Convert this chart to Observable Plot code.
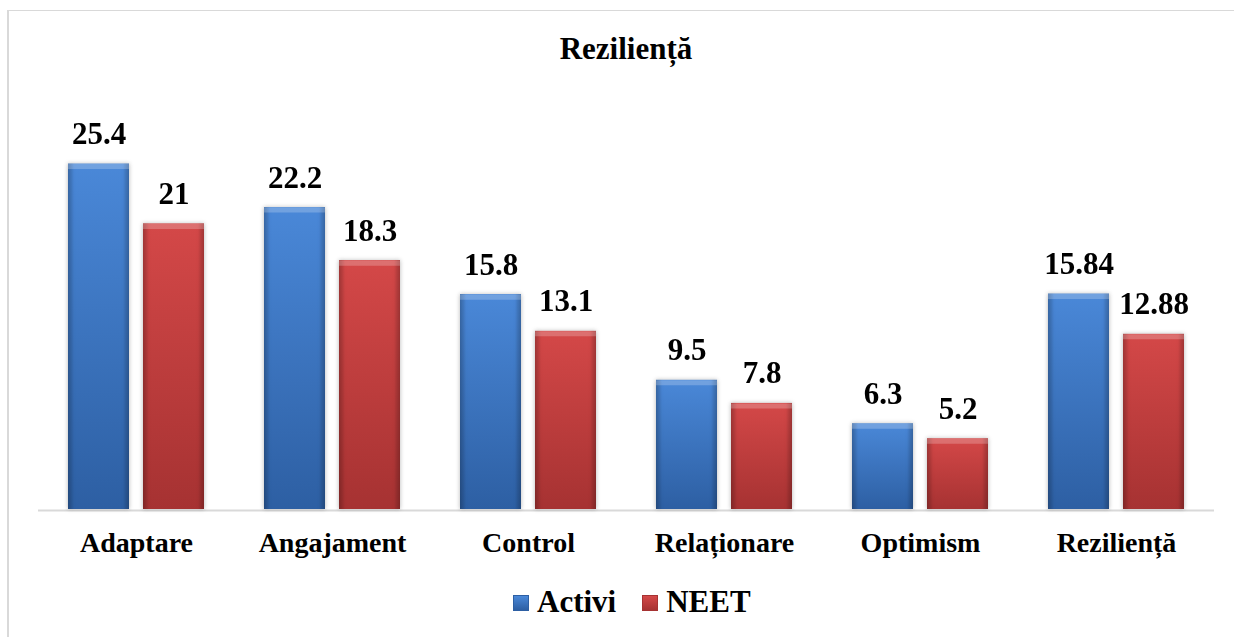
<!DOCTYPE html>
<html>
<head>
<meta charset="utf-8">
<script src="https://cdn.jsdelivr.net/npm/d3@7"></script>
<script src="https://cdn.jsdelivr.net/npm/@observablehq/plot@0.6"></script>
<style>
  html, body { margin: 0; padding: 0; background: #fff; }
  #wrap { position: relative; width: 1234px; height: 637px; overflow: hidden; background: #fff;
          font-family: "Liberation Serif", "Times New Roman", serif; font-weight: bold; color: #000; }
  .bt { position: absolute; left: 7px; top: 10px; width: 1227px; height: 1px; background: #d9d9d9; }
  .bl { position: absolute; left: 7px; top: 10px; width: 2px; height: 627px; background: #d9d9d9; }
  #title { position: absolute; left: 37px; width: 1178px; top: 33px; text-align: center;
           font-size: 31px; line-height: 31px; }
  #chart { position: absolute; left: 0; top: 100px; }
  #legend { position: absolute; left: 513px; top: 586px; display: flex; align-items: flex-start;
            font-size: 31px; line-height: 31px; }
  .sw { width: 16px; height: 16px; margin-top: 9px; box-sizing: border-box; }
  .lt { margin-left: 8px; margin-right: 26px; }
</style>
</head>
<body>
<div id="wrap">
  <div class="bt"></div>
  <div class="bl"></div>
  <div id="title"></div>
  <div id="chart"></div>
  <div id="legend"></div>
</div>
<script>
const title = "Reziliență";
const categories = ["Adaptare", "Angajament", "Control", "Relaționare", "Optimism", "Reziliență"];
const seriesNames = ["Activi", "NEET"];
const activi = [25.4, 22.2, 15.8, 9.5, 6.3, 15.84];
const neet = [21, 18.3, 13.1, 7.8, 5.2, 12.88];
const gradTop = {Activi: "#4a88d8", NEET: "#d44848"};
const gradBottom = {Activi: "#2d5fa3", NEET: "#a63232"};

const rows = [];
categories.forEach((c, i) => {
  rows.push({category: c, series: "Activi", value: activi[i]});
  rows.push({category: c, series: "NEET", value: neet[i]});
});

document.getElementById("title").textContent = title;

const gid = s => "grad" + s;

const plot = Plot.plot({
  width: 1234,
  height: 470,
  marginLeft: 37,
  marginRight: 19,
  marginTop: 10,
  marginBottom: 61,
  style: {
    fontFamily: "'Liberation Serif', 'Times New Roman', serif",
    fontSize: "28px",
    fontWeight: "bold",
    color: "#000",
    background: "transparent",
    overflow: "visible"
  },
  facet: {data: rows, x: "category"},
  fx: {domain: categories, padding: 0, label: null, tickSize: 0, tickPadding: 23, axis: "bottom"},
  x: {domain: seriesNames, paddingInner: 0.1867, paddingOuter: 0.4, axis: null},
  y: {domain: [0, 29.34], axis: null},
  marks: [
    Plot.ruleY([0], {stroke: "#d9d9d9", strokeWidth: 2, dy: 1}),
    ...seriesNames.map(s => Plot.barY(rows, {
      filter: d => d.series === s, x: "series", y: "value", fill: `url(#${gid(s)})`
    })),
    Plot.barY(rows, {x: "series", y: "value", fill: "url(#gradEdge)"}),
    Plot.tickY(rows, {x: "series", y: "value", stroke: "rgba(255,255,255,0.22)", strokeWidth: 5, dy: 2.5}),
    Plot.text(rows, {
      x: "series", y: "value", text: d => String(d.value),
      lineAnchor: "bottom", dy: -20, fontSize: 31, fontWeight: "bold", fill: "#000",
      fontFamily: "'Liberation Serif', 'Times New Roman', serif"
    })
  ]
});

// gradient defs
const ns = "http://www.w3.org/2000/svg";
const defs = document.createElementNS(ns, "defs");
function addGrad(id, x2, y2, stops) {
  const g = document.createElementNS(ns, "linearGradient");
  g.setAttribute("id", id);
  g.setAttribute("x1", "0"); g.setAttribute("y1", "0");
  g.setAttribute("x2", x2); g.setAttribute("y2", y2);
  stops.forEach(([o, c, op]) => {
    const st = document.createElementNS(ns, "stop");
    st.setAttribute("offset", o);
    st.setAttribute("stop-color", c);
    st.setAttribute("stop-opacity", op == null ? 1 : op);
    g.appendChild(st);
  });
  defs.appendChild(g);
}
seriesNames.forEach(s => addGrad(gid(s), "0", "1", [[0, gradTop[s]], [1, gradBottom[s]]]));
addGrad("gradEdge", "1", "0", [[0, "#000", 0.22], [0.1, "#000", 0], [0.9, "#000", 0], [1, "#000", 0.22]]);
plot.insertBefore(defs, plot.firstChild);
plot.querySelectorAll('g[aria-label="bar"]').forEach(g => {
  g.style.filter = "drop-shadow(0px 0px 2px rgba(0,0,0,0.25))";
});
document.getElementById("chart").appendChild(plot);

// legend
const legend = document.getElementById("legend");
seriesNames.forEach(s => {
  const sw = document.createElement("div");
  sw.className = "sw";
  sw.style.background = `linear-gradient(${gradTop[s]}, ${gradBottom[s]})`;
  sw.style.border = "1px solid " + gradBottom[s];
  const t = document.createElement("div");
  t.className = "lt";
  t.textContent = s;
  legend.appendChild(sw);
  legend.appendChild(t);
});
</script>
</body>
</html>
